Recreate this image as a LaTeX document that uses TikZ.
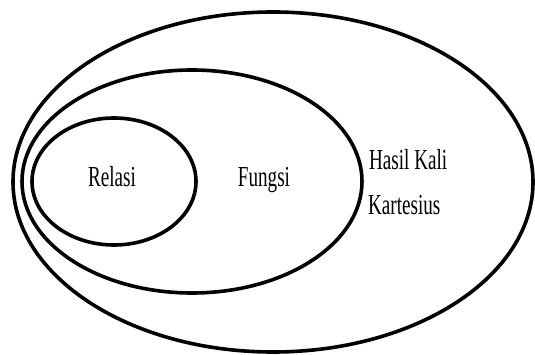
\documentclass[tikz,border=0pt]{standalone}
\usepackage{fontspec}
\setmainfont{Liberation Serif}
\usetikzlibrary{shapes.geometric}
\begin{document}
\begin{tikzpicture}[x=1pt,y=-1pt,
  setshape/.style={draw=black, line width=3.6pt, ellipse, inner sep=0pt},
  lbl/.style={font=\fontsize{29}{31}\selectfont, xscale=0.66, inner sep=0pt, text=black}]
\useasboundingbox (0,0) rectangle (535,355);
\node[setshape, minimum width=520pt, minimum height=340pt] (hk) at (273,182) {};
\node[setshape, minimum width=340pt, minimum height=223pt] (fu) at (192,181.5) {};
\node[setshape, minimum width=164pt, minimum height=127pt] (re) at (114,181.5) {};
\node[lbl, anchor=base] (tre) at (112,187) {Relasi};
\node[lbl, anchor=base] (tfu) at (264,187) {Fungsi};
\node[lbl, anchor=base west] (thk1) at (369,170) {Hasil Kali};
\node[lbl, anchor=base west] (thk2) at (368,215) {Kartesius};
\end{tikzpicture}
\end{document}
